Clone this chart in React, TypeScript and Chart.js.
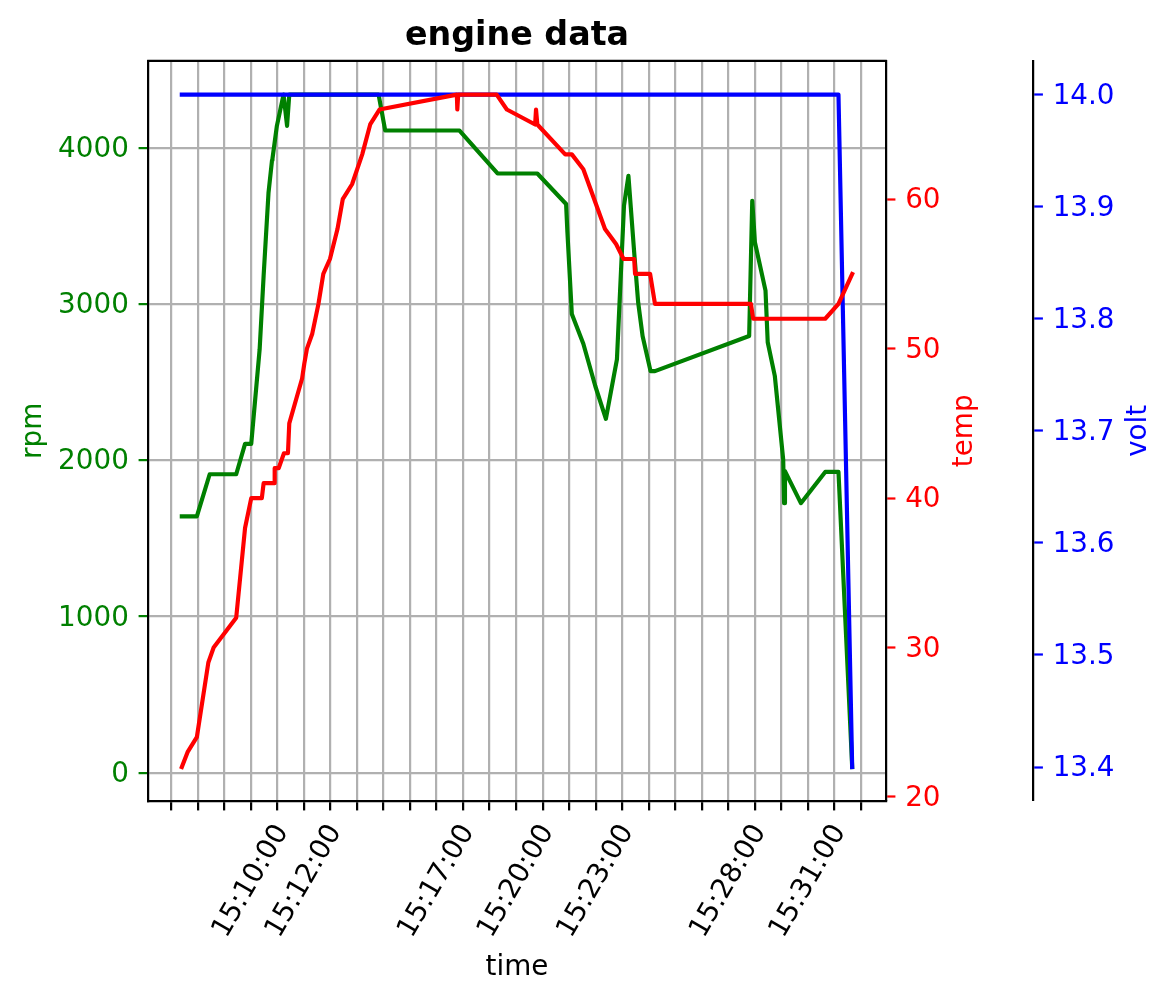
import React, { useEffect, useRef } from 'react';
import { Chart, registerables } from 'chart.js';

Chart.register(...registerables);

// ---------- data ----------
const rpmTimes = [
  '15:07:24', '15:07:58', '15:08:27', '15:09:27', '15:09:47', '15:10:01', '15:10:20', '15:10:29',
  '15:10:40', '15:10:48', '15:10:49', '15:10:59', '15:11:14', '15:11:22', '15:11:27', '15:14:49',
  '15:15:04', '15:17:52', '15:19:18', '15:20:48', '15:21:53', '15:21:56', '15:22:06', '15:22:32',
  '15:22:59', '15:23:23', '15:23:48', '15:24:04', '15:24:14', '15:24:27', '15:24:36', '15:24:46',
  '15:25:04', '15:25:14', '15:28:47', '15:28:54', '15:29:00', '15:29:24', '15:29:29', '15:29:45',
  '15:30:04', '15:30:06', '15:30:08', '15:30:44', '15:31:39', '15:32:09', '15:32:40',
];
const rpmValues = [
  1640, 1640, 1910, 1910, 2105, 2105, 2710, 3180,
  3710, 3920, 3930, 4140, 4340, 4140, 4340, 4340,
  4110, 4110, 3835, 3835, 3640, 3460, 2935, 2745,
  2475, 2265, 2645, 3630, 3820, 3330, 3010, 2795,
  2570, 2570, 2795, 3660, 3395, 3085, 2755, 2540,
  2005, 1725, 1930, 1725, 1925, 1925, 36,
];

const tempTimes = [
  '15:07:24', '15:07:37', '15:07:58', '15:08:24', '15:08:36', '15:09:27', '15:09:47', '15:10:01',
  '15:10:25', '15:10:29', '15:10:53', '15:10:54', '15:11:03', '15:11:15', '15:11:24', '15:11:27',
  '15:11:56', '15:12:01', '15:12:07', '15:12:19', '15:12:33', '15:12:44', '15:12:59', '15:13:16',
  '15:13:28', '15:13:49', '15:14:12', '15:14:30', '15:14:51', '15:17:46', '15:17:47', '15:17:49',
  '15:19:16', '15:19:39', '15:20:43', '15:20:45', '15:20:48', '15:21:51', '15:22:06', '15:22:32',
  '15:23:21', '15:23:46', '15:24:03', '15:24:27', '15:24:29', '15:25:03', '15:25:14', '15:28:51',
  '15:28:56', '15:31:39', '15:32:09', '15:32:40',
];
const tempValues = [
  22, 23, 24, 29, 30, 32, 38, 40,
  40, 41, 41, 42, 42, 43, 43, 45,
  48, 49, 50, 51, 53, 55, 56, 58,
  60, 61, 63, 65, 66, 67, 66, 67,
  67, 66, 65, 66, 65, 63, 63, 62,
  58, 57, 56, 56, 55, 55, 53, 53,
  52, 52, 53, 55,
];

const voltTimes = ['15:07:24', '15:32:09', '15:32:40'];
const voltValues = [14.0, 14.0, 13.4];

// ---------- ticks / labels ----------
const minuteTicks = [7, 8, 9, 10, 11, 12, 13, 14, 15, 16, 17, 18, 19, 20, 21, 22, 23, 24, 25, 26, 27, 28, 29, 30, 31, 32, 33];
const xTickLabels = ['15:10:00', '15:12:00', '15:17:00', '15:20:00', '15:23:00', '15:28:00', '15:31:00'];
const rpmTicks = [0, 1000, 2000, 3000, 4000];
const tempTicks = [20, 30, 40, 50, 60];
const voltTicks = [13.4, 13.5, 13.6, 13.7, 13.8, 13.9, 14.0];

const titleText = 'engine data';
const xTitle = 'time';
const rpmTitle = 'rpm';
const tempTitle = 'temp';
const voltTitle = 'volt';

// ---------- helpers ----------
const toMin = (s: string) => {
  const [h, m, sec] = s.split(':').map(Number);
  return (h - 15) * 60 + m + sec / 60;
};
const pts = (times: string[], vals: number[]) => times.map((t, i) => ({ x: toMin(t), y: vals[i] }));
const padRange = (vals: number[]) => {
  const lo = Math.min(...vals);
  const hi = Math.max(...vals);
  const d = hi - lo;
  return { min: lo - 0.05 * d, max: hi + 0.05 * d };
};

const FONT = 'DejaVu Sans';
const FS = 27.8;
const TS = 33.3;
const LW = 4.17;
const THIN = 2.22;
const TICKLEN = 9.72;
const GRID = '#b0b0b0';

export default function App() {
  const ref = useRef<HTMLCanvasElement | null>(null);

  useEffect(() => {
    if (!ref.current) return;
    const allTimes = [...rpmTimes, ...tempTimes, ...voltTimes].map(toMin);
    const xr = padRange(allTimes);
    const rr = padRange(rpmValues);
    const tr = padRange(tempValues);
    const vr = padRange(voltValues);
    const labeled = new Map<number, string>();
    xTickLabels.forEach((l) => labeled.set(Math.round(toMin(l)), l));

    const extras = {
      id: 'extras',
      afterDraw(chart: any) {
        const { ctx, chartArea } = chart;
        ctx.save();
        ctx.strokeStyle = '#000';
        ctx.lineWidth = THIN;
        ctx.lineCap = 'square';
        ctx.beginPath();
        ctx.moveTo(chartArea.left, chartArea.top);
        ctx.lineTo(chartArea.right, chartArea.top);
        ctx.stroke();
        const cy = (chartArea.top + chartArea.bottom) / 2;
        const drawT = (text: string, x: number, color: string) => {
          ctx.save();
          ctx.translate(x, cy);
          ctx.rotate(-Math.PI / 2);
          ctx.font = `${FS}px "${FONT}"`;
          ctx.textAlign = 'center';
          ctx.textBaseline = 'middle';
          ctx.fillStyle = color;
          ctx.fillText(text, 0, 0);
          ctx.restore();
        };
        drawT(tempTitle, chart.scales.y1.left + 79.4, 'red');
        drawT(voltTitle, chart.scales.y2.left + 105.9, 'blue');
        ctx.restore();
      },
    };

    const yTicksCommon = { autoSkip: false, padding: TICKLEN, labelOffset: 2, font: { size: FS, family: FONT } };

    const chart = new Chart(ref.current, {
      type: 'line',
      data: {
        datasets: [
          {
            label: tempTitle, data: pts(tempTimes, tempValues), yAxisID: 'y1', order: 0,
            borderColor: 'red', backgroundColor: 'red', borderWidth: LW, pointRadius: 0,
            borderJoinStyle: 'round', borderCapStyle: 'square', tension: 0, fill: false,
          },
          {
            label: voltTitle, data: pts(voltTimes, voltValues), yAxisID: 'y2', order: 1,
            borderColor: 'blue', backgroundColor: 'blue', borderWidth: LW, pointRadius: 0,
            borderJoinStyle: 'round', borderCapStyle: 'square', tension: 0, fill: false,
          },
          {
            label: rpmTitle, data: pts(rpmTimes, rpmValues), yAxisID: 'y', order: 2,
            borderColor: 'green', backgroundColor: 'green', borderWidth: LW, pointRadius: 0,
            borderJoinStyle: 'round', borderCapStyle: 'square', tension: 0, fill: false,
          },
        ],
      },
      options: {
        animation: false,
        responsive: false,
        maintainAspectRatio: false,
        devicePixelRatio: 1,
        events: [],
        layout: { padding: 0 },
        plugins: {
          legend: { display: false },
          tooltip: { enabled: false },
          title: {
            display: true, text: titleText, color: '#000', fullSize: false,
            font: { size: TS, weight: 'bold', family: FONT },
            padding: { top: 16.3, bottom: 4.7 },
          },
        },
        scales: {
          x: {
            type: 'linear', position: 'bottom', bounds: 'data', min: xr.min, max: xr.max,
            afterBuildTicks: (s: any) => { s.ticks = minuteTicks.map((v) => ({ value: v })); },
            afterFit: (s: any) => { s.height = 201.3; },
            ticks: {
              autoSkip: false, minRotation: 60, maxRotation: 60, labelOffset: 31.5, padding: 8.6,
              color: '#000', font: { size: FS, family: FONT },
              callback: (v: any) => labeled.get(Math.round(Number(v))) ?? '',
            },
            grid: { color: GRID, lineWidth: THIN, tickLength: TICKLEN, tickColor: '#000', tickWidth: THIN },
            border: { color: '#000', width: THIN },
            title: { display: true, text: xTitle, color: '#000', font: { size: FS, family: FONT }, padding: { top: 0, bottom: 17.6 } },
          },
          y: {
            type: 'linear', position: 'left', bounds: 'data', min: rr.min, max: rr.max,
            afterBuildTicks: (s: any) => { s.ticks = rpmTicks.map((v) => ({ value: v })); },
            afterFit: (s: any) => { s.width = 148.3; },
            ticks: { ...yTicksCommon, color: 'green', callback: (v: any) => String(v) },
            grid: { color: GRID, lineWidth: THIN, tickLength: TICKLEN, tickColor: 'green', tickWidth: THIN },
            border: { color: '#000', width: THIN },
            title: { display: true, text: rpmTitle, color: 'green', font: { size: FS, family: FONT }, padding: { top: 17, bottom: 0 } },
          },
          y1: {
            type: 'linear', position: 'right', weight: 0, bounds: 'data', min: tr.min, max: tr.max,
            afterBuildTicks: (s: any) => { s.ticks = tempTicks.map((v) => ({ value: v })); },
            afterFit: (s: any) => { s.width = 147.5; },
            ticks: { ...yTicksCommon, color: 'red', callback: (v: any) => String(v) },
            grid: { drawOnChartArea: false, tickLength: TICKLEN, tickColor: 'red', tickWidth: THIN },
            border: { color: '#000', width: THIN },
            title: { display: false, text: tempTitle },
          },
          y2: {
            type: 'linear', position: 'right', weight: 1, bounds: 'data', min: vr.min, max: vr.max,
            afterBuildTicks: (s: any) => { s.ticks = voltTicks.map((v) => ({ value: v })); },
            afterFit: (s: any) => { s.width = 139.8; },
            ticks: { ...yTicksCommon, color: 'blue', callback: (v: any) => Number(v).toFixed(1) },
            grid: { drawOnChartArea: false, tickLength: TICKLEN, tickColor: 'blue', tickWidth: THIN },
            border: { color: '#000', width: THIN },
            title: { display: false, text: voltTitle },
          },
        },
      } as any,
      plugins: [extras],
    });
    return () => chart.destroy();
  }, []);

  return (
    <div style={{ position: 'absolute', left: 0, top: 0, width: 1173, height: 1002, background: '#fff' }}>
      <canvas ref={ref} width={1173} height={1002} style={{ width: 1173, height: 1002, display: 'block' }} />
    </div>
  );
}
